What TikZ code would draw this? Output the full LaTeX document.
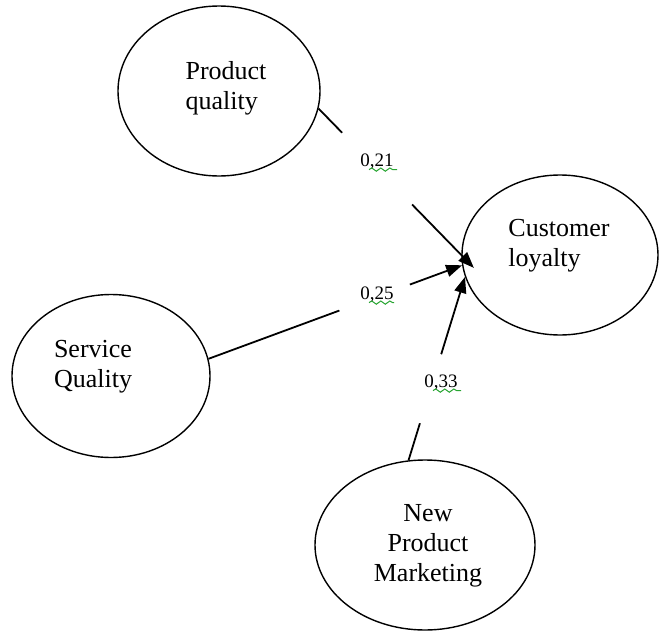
\documentclass[tikz,border=0pt]{standalone}
\usepackage{fontspec}
\setmainfont{Liberation Serif}
\usepackage{tikz}
\usetikzlibrary{arrows.meta}
\usetikzlibrary{decorations, decorations.pathmorphing}
\usetikzlibrary{shapes,positioning}
\definecolor{spellgreen}{RGB}{40,165,50}
\tikzset{model-line/.style={line width=0.9pt}}
\tikzset{>={Triangle[length=8pt,width=6pt]}}
\tikzset{model-construct/.style={draw, ellipse, inner sep=0, line width=0.7pt}}
\tikzset{model-text/.style={inner sep=0, align=left, font=\fontsize{13}{15}\selectfont}}
\tikzset{model-gap/.style={circle, fill=white, inner sep=0}}
\tikzset{model-weight/.style={inner sep=0, anchor=base, font=\fontsize{9.5}{11}\selectfont}}
\tikzset{model-squiggle/.style={
        spellgreen,
        line width=0.5pt,
        decorate,
        decoration={snake, amplitude=0.8pt, segment length=4.5pt}
    }
}

\begin{document}
\begin{tikzpicture}[x=0.5pt, y=-0.5pt]
            \useasboundingbox (0,0) rectangle (660,632);

            \node[model-construct, minimum width=101pt, minimum height=85pt] (pq) at (219,91) {};
            \node[model-construct, minimum width=99pt, minimum height=81.5pt] (sq) at (111,376) {};
            \node[model-construct, minimum width=98pt, minimum height=80pt] (cl) at (560,255) {};
            \node[model-construct, minimum width=110pt, minimum height=85pt] (npm) at (425,545) {};

            \node[model-text] (pq-text) at (226,88) {Product\\quality};
            \node[model-text] (sq-text) at (93,367) {Service\\Quality};
            \node[model-text] (cl-text) at (559,246) {Customer\\loyalty};
            \node[model-text, align=center] (npm-text) at (428,546) {New\\Product\\Marketing};

            \draw[->, model-line, shorten >=-9pt] (pq.-10) -- node[model-gap, pos=0.41, minimum size=50pt] (g21) {} (cl.west);
            \draw[->, model-line] (sq.10) -- node[model-gap, pos=0.655, minimum size=37.5pt] (g25) {} (cl.186);
            \draw[->, model-line] (npm.101) -- node[model-gap, pos=0.39, minimum size=36pt] (g33) {} (cl.193);

            \node[model-weight] (w21) at (377,166) {0,21};
            \node[model-weight] (w25) at (377,299) {0,25};
            \node[model-weight] (w33) at (441,387) {0,33};

            \draw[model-squiggle] ([xshift=-4pt, yshift=-1.8pt]w21.base) -- ([xshift=10pt, yshift=-1.8pt]w21.base);
            \draw[model-squiggle] ([xshift=-4pt, yshift=-1.8pt]w25.base) -- ([xshift=8.5pt, yshift=-1.8pt]w25.base);
            \draw[model-squiggle] ([xshift=-4pt, yshift=-1.8pt]w33.base) -- ([xshift=10pt, yshift=-1.8pt]w33.base);

        \end{tikzpicture}
\end{document}
